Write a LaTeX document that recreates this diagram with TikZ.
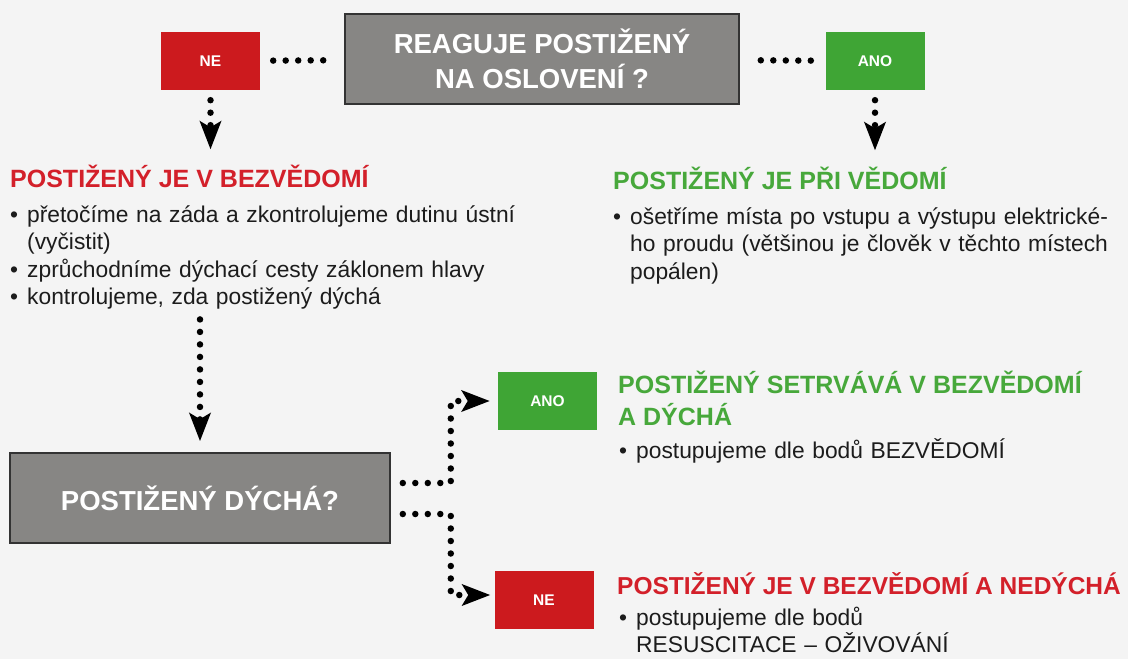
\documentclass[tikz,border=0pt]{standalone}
\usepackage{fontspec}
\setmainfont{Liberation Sans}
\usetikzlibrary{arrows.meta, positioning}
\definecolor{cervena}{HTML}{CC1A1E}
\definecolor{zelena}{HTML}{3FA535}
\definecolor{sedaBox}{HTML}{878684}
\definecolor{pozadi}{HTML}{F4F4F4}
\definecolor{nadpisCerveny}{HTML}{D3202A}
\definecolor{nadpisZeleny}{HTML}{47A83B}
\definecolor{textCerny}{HTML}{1C1C1C}
\newcommand{\bod}{\hangindent=17pt\hangafter=1\noindent\makebox[17pt][l]{\textbullet}}

\begin{document}
\begin{tikzpicture}[x=1pt, y=-1pt,
        otazka/.style={draw=black!80, line width=1.6pt, fill=sedaBox, text=white, align=center,
            font=\fontsize{27.5}{35}\selectfont\bfseries, inner sep=0pt},
        volba/.style={text=white, font=\fontsize{15.5}{17}\selectfont\bfseries,
            minimum width=99pt, minimum height=58pt, inner sep=0pt},
        nadpis/.style={anchor=base west, inner sep=0pt, align=left,
            font=\fontsize{25}{32}\selectfont\bfseries},
        popis/.style={anchor=base west, inner sep=0pt, align=left, text width=515pt, text=textCerny,
            font=\fontsize{22.8}{27.5}\selectfont},
        tecky/.style={line width=6.5pt, dash pattern=on 0pt off 12.5pt, line cap=round},
        sipka/.style={-{Stealth[length=28pt, width=21pt, inset=6pt]}}
    ]
        \fill[pozadi] (0,0) rectangle (1128,659);
        \useasboundingbox (0,0) rectangle (1128,659);

        \node[otazka, minimum width=394pt, minimum height=90pt] (otazka) at (542,59) {REAGUJE POSTIŽENÝ\\NA OSLOVENÍ ?};
        \node[volba, fill=cervena] (ne1) at (210.5,61) {NE};
        \node[volba, fill=zelena] (ano1) at (875,61) {ANO};

        \node[nadpis, text=nadpisCerveny] (bezv) at (10,187) {POSTIŽENÝ JE V BEZVĚDOMÍ};
        \node[popis] (seznamL) at (10,222) {\bod přetočíme na záda a zkontrolujeme dutinu ústní\newline(vyčistit)\par
            \bod zprůchodníme dýchací cesty záklonem hlavy\par
            \bod kontrolujeme, zda postižený dýchá\par};
        \node[nadpis, text=nadpisZeleny] (pri) at (613,189) {POSTIŽENÝ JE PŘI VĚDOMÍ};
        \node[popis] (seznamP) at (613,224) {\bod ošetříme místa po vstupu a výstupu elektrické-\newline ho proudu (většinou je člověk v těchto místech\newline popálen)\par};

        \node[otazka, minimum width=380pt, minimum height=90pt] (dycha) at (200,498) {POSTIŽENÝ DÝCHÁ?};
        \node[volba, fill=zelena] (ano2) at (547.5,401) {ANO};
        \node[volba, fill=cervena] (ne2) at (544,600) {NE};

        \node[nadpis, text=nadpisZeleny] (setrvava) at (618,425) {POSTIŽENÝ SETRVÁVÁ V BEZVĚDOMÍ\\A DÝCHÁ};
        \node[popis] (bodA) at (619,458) {\bod postupujeme dle bodů BEZVĚDOMÍ\par};
        \node[nadpis, text=nadpisCerveny, font=\fontsize{24.5}{32}\selectfont\bfseries] (nedycha) at (617,594) {POSTIŽENÝ JE V BEZVĚDOMÍ A NEDÝCHÁ};
        \node[popis] (bodN) at (619,625) {\bod postupujeme dle bodů\newline RESUSCITACE – OŽIVOVÁNÍ\par};

        \draw[tecky, shorten <=13pt, shorten >=20pt] (ne1) -- (otazka);
        \draw[tecky, shorten <=21pt, shorten >=12pt] (otazka) -- (ano1);
        \draw[tecky, sipka, shorten <=10pt, shorten >=15pt] (ne1) -- (ne1 |- bezv.north);
        \draw[tecky, sipka, shorten <=10pt, shorten >=16pt] (ano1) -- (ano1 |- pri.north);
        \draw[tecky, sipka, shorten <=10pt, shorten >=11pt] (dycha.north |- seznamL.south) -- (dycha);
        \draw[tecky, sipka, shorten >=8pt] ([xshift=12pt, yshift=15pt]dycha.east) -- ++(48,0) |- (ano2);
        \draw[tecky, sipka, shorten >=4pt] ([xshift=12pt, yshift=-16pt]dycha.east) -- ++(48,0) |- ([yshift=5pt]ne2.west);
    \end{tikzpicture}
\end{document}
